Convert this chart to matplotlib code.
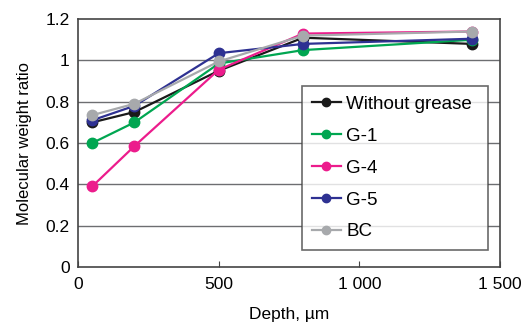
import matplotlib
matplotlib.use('Agg')
import matplotlib.pyplot as plt
from matplotlib.ticker import FuncFormatter

plt.rcParams['font.family'] = ['Liberation Sans', 'DejaVu Sans']

# Data
depth = [50, 200, 500, 800, 1400]
without_grease = [0.70, 0.75, 0.95, 1.11, 1.08]
g1 = [0.60, 0.70, 0.985, 1.05, 1.10]
g4 = [0.39, 0.585, 0.955, 1.13, 1.14]
g5 = [0.71, 0.78, 1.035, 1.08, 1.105]
bc = [0.735, 0.79, 0.995, 1.12, 1.14]

series = [
    ('Without grease', without_grease, '#1a1a1a'),
    ('G-1', g1, '#00a651'),
    ('G-4', g4, '#ec1c8c'),
    ('G-5', g5, '#2e3192'),
    ('BC', bc, '#a7a9ac'),
]

fig = plt.figure(figsize=(5.28, 3.24), dpi=100)
ax = fig.add_axes([0.148, 0.176, 0.799, 0.765])

# grid lines behind the data
for yv in [0.2, 0.4, 0.6, 0.8, 1.0]:
    ax.axhline(yv, color='#6d6e71', lw=1.0, zorder=1)

for name, vals, col in series:
    ax.plot(depth, vals, color=col, lw=1.6, marker='o', ms=7.5,
            label=name, zorder=3)

ax.set_xlim(0, 1500)
ax.set_ylim(0, 1.2)
ax.set_xticks([0, 500, 1000, 1500])
ax.set_yticks([0, 0.2, 0.4, 0.6, 0.8, 1.0, 1.2])
ax.xaxis.set_major_formatter(FuncFormatter(
    lambda v, p: '{:,}'.format(int(v)).replace(',', ' ')))
ax.yaxis.set_major_formatter(FuncFormatter(
    lambda v, p: '0' if v == 0 else ('1' if abs(v - 1) < 1e-9 else '{:g}'.format(v))))
ax.tick_params(axis='x', direction='in', length=4, color='#444444',
               labelsize=12.5, pad=7)
ax.tick_params(axis='y', length=0, labelsize=12.5, pad=6)
for s in ax.spines.values():
    s.set_color('#444444')
    s.set_linewidth(1.2)

ax.set_xlabel('Depth, \u00b5m', fontsize=12.5, labelpad=11)
ax.set_ylabel('Molecular weight ratio', fontsize=12, labelpad=10)

leg = ax.legend(loc='lower left', bbox_to_anchor=(0.531, 0.069, 0.44, 0.665),
                mode='expand', fontsize=13.5, frameon=True, fancybox=False,
                edgecolor='#444444', handlelength=1.55, handletextpad=0.3,
                labelspacing=0.79, borderpad=0.5, borderaxespad=0,
                markerscale=0.8)
leg.get_frame().set_linewidth(1.2)
leg.set_zorder(5)

plt.savefig('out.png', dpi=100)
